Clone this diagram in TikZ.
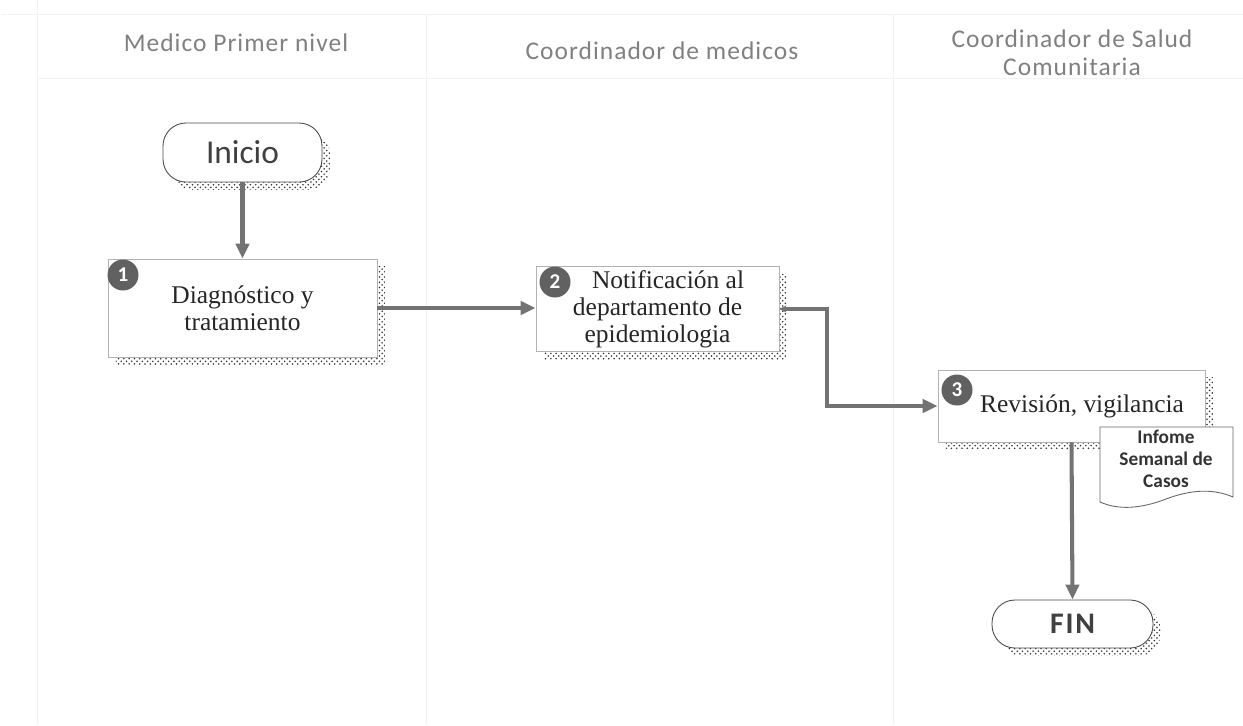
\documentclass[tikz,border=0pt]{standalone}
\usepackage{fontspec}
\setmainfont{Liberation Serif}
\setsansfont{Carlito}
\usetikzlibrary{arrows.meta,patterns,shadows}

\tikzset{
  lane/.style={draw=black!5, line width=0.4pt},
  lanetitle/.style={font=\sffamily\addfontfeature{LetterSpace=4}\fontsize{14.5}{16}\selectfont, text=black!50, align=center},
  boxshadow/.style={drop shadow={shadow xshift=4.5pt, shadow yshift=-4.5pt, opacity=1, pattern=crosshatch dots, pattern color=black!80}},
  task/.style={draw=black!30, fill=white, line width=0.5pt, boxshadow, align=center, text=black!85, font=\fontsize{14.5}{15.5}\selectfont, inner sep=2pt},
  terminal/.style={draw=black!70, fill=white, line width=0.5pt, rounded corners=13pt, boxshadow, font=\sffamily\fontsize{19}{20}\selectfont, text=black!75},
  badge/.style={circle, fill=black!62, text=white, font=\sffamily\bfseries\fontsize{12}{12}\selectfont, minimum size=0.62cm, inner sep=0pt},
  flow/.style={draw=black!55, line width=2.3pt, -{Triangle[length=8.5pt,width=7.5pt]}},
  docshape/.style={draw=black!60, fill=white, line width=0.5pt},
  doctext/.style={font=\sffamily\bfseries\fontsize{11}{12.5}\selectfont, align=center, text=black!80}
}

\begin{document}
\begin{tikzpicture}[x=0.02cm, y=-0.02cm]
\useasboundingbox (0,0) rectangle (1243,725);

% Lanes
\draw[lane] (2,14) -- (1243,14);
\draw[lane] (37,78) -- (1243,78);
\draw[lane] (37,0) -- (37,725);
\draw[lane] (426,14) -- (426,725);
\draw[lane] (893,14) -- (893,725);

% Lane titles
\node[lanetitle] (lane1) at (236,43) {Medico Primer nivel};
\node[lanetitle] (lane2) at (662,51) {Coordinador de medicos};
\node[lanetitle] (lane3) at (1072,53) {Coordinador de Salud\\Comunitaria};

% Steps
\node[terminal, minimum width=3.18cm, minimum height=1.18cm] (inicio) at (242.5,152.5) {Inicio};
\node[task, minimum width=5.38cm, minimum height=1.96cm] (diag) at (242.5,308) {Diagnóstico y\\tratamiento};
\node[task, minimum width=4.86cm, minimum height=1.52cm] (notif) at (657.5,309) {\hspace*{12pt}Notificación al\\departamento de\\epidemiologia};
\node[task, minimum width=5.34cm, minimum height=1.44cm] (revis) at (1071.5,406) {\hspace*{12pt}Revisión, vigilancia};
\node[terminal, minimum width=3.22cm, minimum height=0.96cm, font=\sffamily\bfseries\addfontfeature{LetterSpace=6}\fontsize{17}{18}\selectfont] (fin) at (1072.5,624) {FIN};

% Badges
\node[badge] (b1) at (123,275) {1};
\node[badge] (b2) at (555,282) {2};
\node[badge] (b3) at (957,390) {3};

% Report
\filldraw[docshape] (1100,502) -- (1100,427) -- (1233,427) -- (1233,497)
  .. controls (1212,488) and (1190,490) .. (1166,499)
  .. controls (1140,509) and (1118,510) .. (1100,502) -- cycle;
\node[doctext] (informe) at (1166,459) {Infome\\Semanal de\\Casos};

% Flow
\coordinate (elbow) at (827,309);
\draw[flow] (inicio) -- (diag);
\draw[flow] (diag.east) -- (diag.east -| notif.west);
\draw[flow, {Stealth[length=4pt,width=4pt]}-{Triangle[length=8.5pt,width=7.5pt]}] (notif.east) -- (elbow) |- (revis.west);
\draw[flow] (revis.south) -- (fin.north);
\end{tikzpicture}
\end{document}
